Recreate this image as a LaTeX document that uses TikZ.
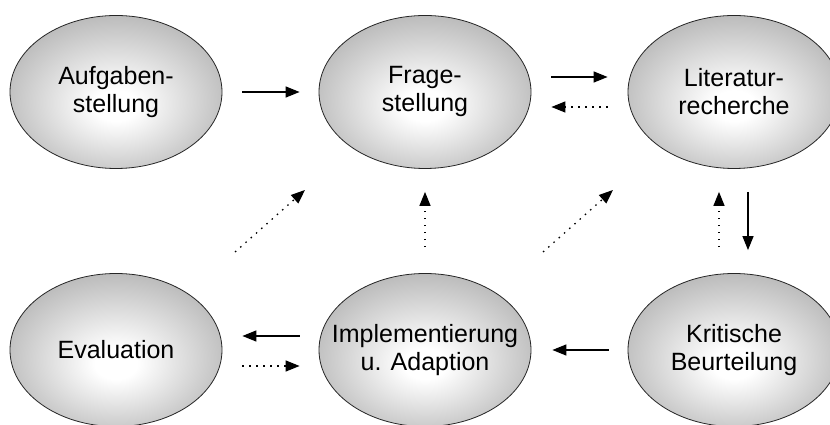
\documentclass[tikz,border=0pt]{standalone}
\usepackage{fontspec}
\setmainfont{Liberation Sans}
\usetikzlibrary{shapes.geometric,arrows.meta,positioning}
\definecolor{bubbleRim}{rgb}{0.68,0.68,0.68}
\definecolor{bubbleLine}{rgb}{0.15,0.15,0.15}
\pgfdeclareradialshading{bubbleShade}{\pgfpoint{0bp}{-5bp}}{color(0bp)=(white); color(5bp)=(white); color(32bp)=(bubbleRim); color(50bp)=(bubbleRim)}

\begin{document}
\begin{tikzpicture}[x=1pt,y=1pt,
  bubble/.style={ellipse,draw=bubbleLine,line width=0.8pt,shading=bubbleShade,
    minimum width=212pt,minimum height=153pt,inner xsep=-20pt,inner ysep=0pt,
    align=center,font=\fontsize{25}{28}\selectfont},
  flow/.style={line width=1.3pt,-{Triangle[length=14pt,width=11pt]}},
  back/.style={flow,dash pattern=on 1.5pt off 5.5pt}]

\useasboundingbox (0,0) rectangle (830,425);

\def\rowTop{333}
\def\rowBottom{75}

% the six stages
\foreach \id/\xpos/\ypos/\caption in {
  aufgabe/116/\rowTop/{Aufgaben-\\stellung},
  frage/425/\rowTop/{Frage-\\stellung},
  literatur/734/\rowTop/{Literatur-\\recherche},
  evaluation/116/\rowBottom/{Evaluation},
  implement/425/\rowBottom/{Implementierung\\u. Adaption},
  kritik/734/\rowBottom/{Kritische\\Beurteilung}}
  \node[bubble] (\id) at (\xpos,\ypos) {\caption};

% forward steps
\draw[flow,shorten <=20pt,shorten >=19pt] (aufgabe) -- (frage);
\draw[flow,shorten <=20pt,shorten >=20pt] ([yshift=15pt]frage.east) -- ([yshift=15pt]literatur.west);
\draw[flow,shorten <=23pt,shorten >=23pt] ([xshift=14pt]literatur.south) -- ([xshift=14pt]kritik.north);
\draw[flow,shorten <=19pt,shorten >=21pt] (kritik) -- (implement);
\draw[flow,shorten <=19pt,shorten >=20pt] ([yshift=14pt]implement.west) -- ([yshift=14pt]evaluation.east);

% feedback loops
\draw[back,shorten <=20pt,shorten >=20pt] ([yshift=-15pt]literatur.west) -- ([yshift=-15pt]frage.east);
\draw[back,shorten <=26pt,shorten >=23pt] ([xshift=-15pt]kritik.north) -- ([xshift=-15pt]literatur.south);
\draw[back,shorten <=20pt,shorten >=19pt] ([yshift=-16pt]evaluation.east) -- ([yshift=-16pt]implement.west);
\draw[back,shorten <=26pt,shorten >=23pt] (implement.north) -- (frage.south);
\draw[back] ([shift={(119pt,98pt)}]evaluation.center) -- ([shift={(-120pt,-98pt)}]frage.center);
\draw[back] ([shift={(118pt,98pt)}]implement.center) -- ([shift={(-121pt,-98pt)}]literatur.center);

\end{tikzpicture}
\end{document}
